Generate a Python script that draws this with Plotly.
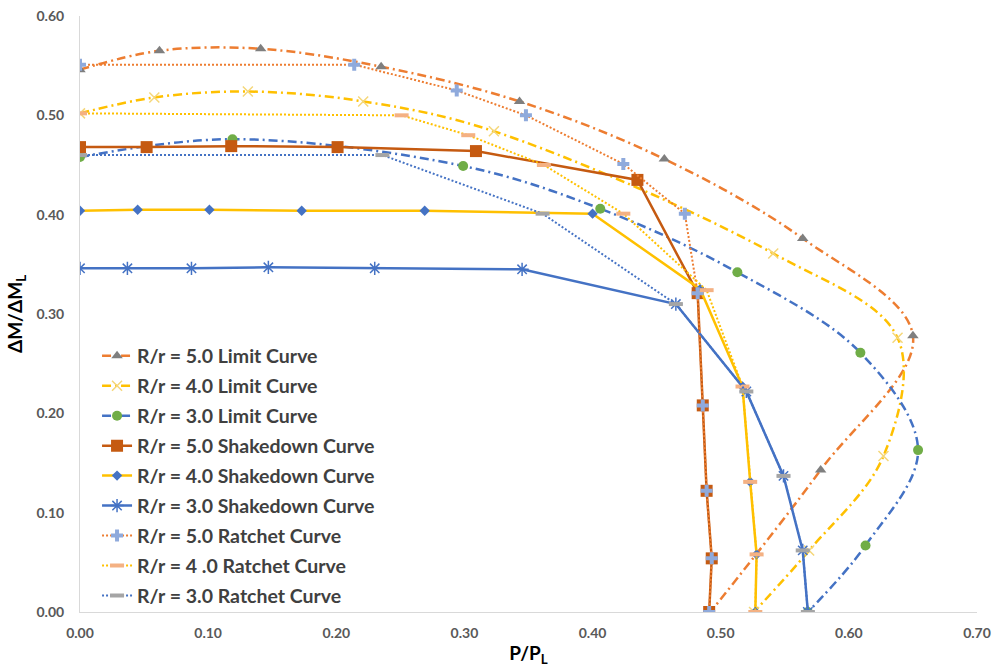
import plotly.graph_objects as go

# ---- data: P/P_L (x) and ΔM/ΔM_L (y) for each curve ----
lim5_x = [0, 0.062, 0.141, 0.235, 0.343, 0.456, 0.564, 0.650, 0.578, 0.492]
lim5_y = [0.546, 0.565, 0.567, 0.549, 0.514, 0.456, 0.376, 0.278, 0.143, 0.0]

lim4_x = [0, 0.058, 0.131, 0.221, 0.323, 0.541, 0.638, 0.627, 0.569, 0.526]
lim4_y = [0.502, 0.518, 0.524, 0.514, 0.484, 0.361, 0.276, 0.157, 0.062, 0.0]

lim3_x = [0, 0.119, 0.299, 0.406, 0.513, 0.609, 0.654, 0.613, 0.568]
lim3_y = [0.458, 0.476, 0.449, 0.406, 0.342, 0.261, 0.163, 0.067, 0.0]

shk5_x = [0, 0.052, 0.118, 0.201, 0.309, 0.435, 0.482, 0.486, 0.489, 0.493, 0.491]
shk5_y = [0.468, 0.468, 0.469, 0.468, 0.464, 0.435, 0.321, 0.208, 0.122, 0.054, 0.0]

shk4_x = [0, 0.045, 0.101, 0.173, 0.269, 0.400, 0.484, 0.517, 0.523, 0.528, 0.527]
shk4_y = [0.404, 0.405, 0.405, 0.404, 0.404, 0.401, 0.325, 0.227, 0.131, 0.058, 0.0]

shk3_x = [0, 0.037, 0.087, 0.147, 0.230, 0.345, 0.465, 0.520, 0.549, 0.564, 0.568]
shk3_y = [0.346, 0.346, 0.346, 0.347, 0.346, 0.345, 0.310, 0.222, 0.137, 0.062, 0.0]

rat5_x = [0, 0.214, 0.294, 0.348, 0.424, 0.472, 0.482, 0.486, 0.489, 0.493, 0.491]
rat5_y = [0.551, 0.551, 0.525, 0.500, 0.451, 0.401, 0.321, 0.208, 0.122, 0.054, 0.0]

rat4_x = [0, 0.251, 0.303, 0.362, 0.424, 0.489, 0.517, 0.523, 0.528, 0.527]
rat4_y = [0.502, 0.500, 0.480, 0.450, 0.401, 0.324, 0.227, 0.131, 0.058, 0.0]

rat3_x = [0, 0.236, 0.361, 0.465, 0.520, 0.549, 0.564, 0.568]
rat3_y = [0.460, 0.460, 0.401, 0.310, 0.222, 0.137, 0.062, 0.0]

x_ticks = [0, 0.1, 0.2, 0.3, 0.4, 0.5, 0.6, 0.7]
y_ticks = [0, 0.1, 0.2, 0.3, 0.4, 0.5, 0.6]

ORANGE = "#ED7D31"
YELLOW = "#FFC000"
BLUE = "#4472C4"
BROWN = "#C55A11"
GRAY = "#A5A5A5"
DKGRAY = "#7F7F7F"
GREEN = "#70AD47"
LTBLUE = "#8FAADC"
SALMON = "#F4B183"

LONGDASHDOT = "9px,4px,2px,4px"
ROUNDDOT = "2px,2px"

fig = go.Figure()


def add(name, x, y, color, dash, width, shape, marker):
    fig.add_trace(go.Scatter(
        x=x, y=y, name=name, mode="lines+markers",
        legendgroup=name,
        line=dict(color=color, width=width, dash=dash, shape=shape, smoothing=1),
        marker=marker,
    ))


add("R/r = 5.0 Limit Curve", lim5_x, lim5_y, ORANGE, LONGDASHDOT, 2.5, "spline",
    dict(symbol="triangle-up", size=10, color=DKGRAY))
add("R/r = 4.0 Limit Curve", lim4_x, lim4_y, YELLOW, LONGDASHDOT, 2.5, "spline",
    dict(symbol="x-thin", size=10, line=dict(color="#F5D77A", width=1.5)))
add("R/r = 3.0 Limit Curve", lim3_x, lim3_y, BLUE, LONGDASHDOT, 2.5, "spline",
    dict(symbol="circle", size=10, color=GREEN))

add("R/r = 5.0 Shakedown Curve", shk5_x, shk5_y, BROWN, "solid", 2.5, "linear",
    dict(symbol="square", size=12, color=BROWN))
add("R/r = 4.0 Shakedown Curve", shk4_x, shk4_y, YELLOW, "solid", 2.5, "linear",
    dict(symbol="diamond", size=8, color=BLUE))
add("R/r = 3.0 Shakedown Curve", shk3_x, shk3_y, BLUE, "solid", 2.5, "linear",
    dict(symbol="asterisk-open", size=11, line=dict(color=GRAY, width=1.5)))

add("R/r = 5.0 Ratchet Curve", rat5_x, rat5_y, ORANGE, ROUNDDOT, 2, "linear",
    dict(symbol="cross", size=10, color=LTBLUE))
add("R/r = 4 .0 Ratchet Curve", rat4_x, rat4_y, YELLOW, ROUNDDOT, 2, "linear",
    dict(symbol="line-ew", size=10, line=dict(color=SALMON, width=4)))
add("R/r = 3.0 Ratchet Curve", rat3_x, rat3_y, BLUE, ROUNDDOT, 2, "linear",
    dict(symbol="line-ew", size=10, line=dict(color=GRAY, width=4)))

FONT = "Lato"

fig.update_layout(
    width=992, height=672,
    margin=dict(l=80, r=15, t=16, b=60),
    paper_bgcolor="white", plot_bgcolor="white",
    font=dict(family=FONT, color="#595959"),
    showlegend=True,
    legend=dict(
        x=0.019, y=0.462, xanchor="left", yanchor="top",
        bgcolor="rgba(255,255,255,0)", borderwidth=0,
        font=dict(family=FONT, size=19.5, color="#404040", weight="bold"),
        tracegroupgap=1.6, itemwidth=30,
    ),
    xaxis=dict(
        range=[0, 0.7], tickvals=x_ticks, tickformat=".2f", automargin=False,
        showgrid=False, zeroline=False, showline=True, linecolor="#D9D9D9", linewidth=1,
        ticks="", ticklabelstandoff=8,
        tickfont=dict(family=FONT, size=14, color="#595959", weight="bold"),
        title=dict(text="P/P<sub>L</sub>", standoff=6,
                   font=dict(family=FONT, size=19, color="#000000", weight="bold")),
    ),
    yaxis=dict(
        range=[0, 0.6], tickvals=y_ticks, tickformat=".2f", automargin=False,
        showgrid=False, zeroline=False, showline=True, linecolor="#D9D9D9", linewidth=1,
        ticks="", ticklabelstandoff=12,
        tickfont=dict(family=FONT, size=14, color="#595959", weight="bold"),
        title=dict(text="ΔM/ΔM<sub>L</sub>", standoff=8,
                   font=dict(family=FONT, size=19, color="#000000", weight="bold")),
    ),
)

fig.write_html("out.html")
